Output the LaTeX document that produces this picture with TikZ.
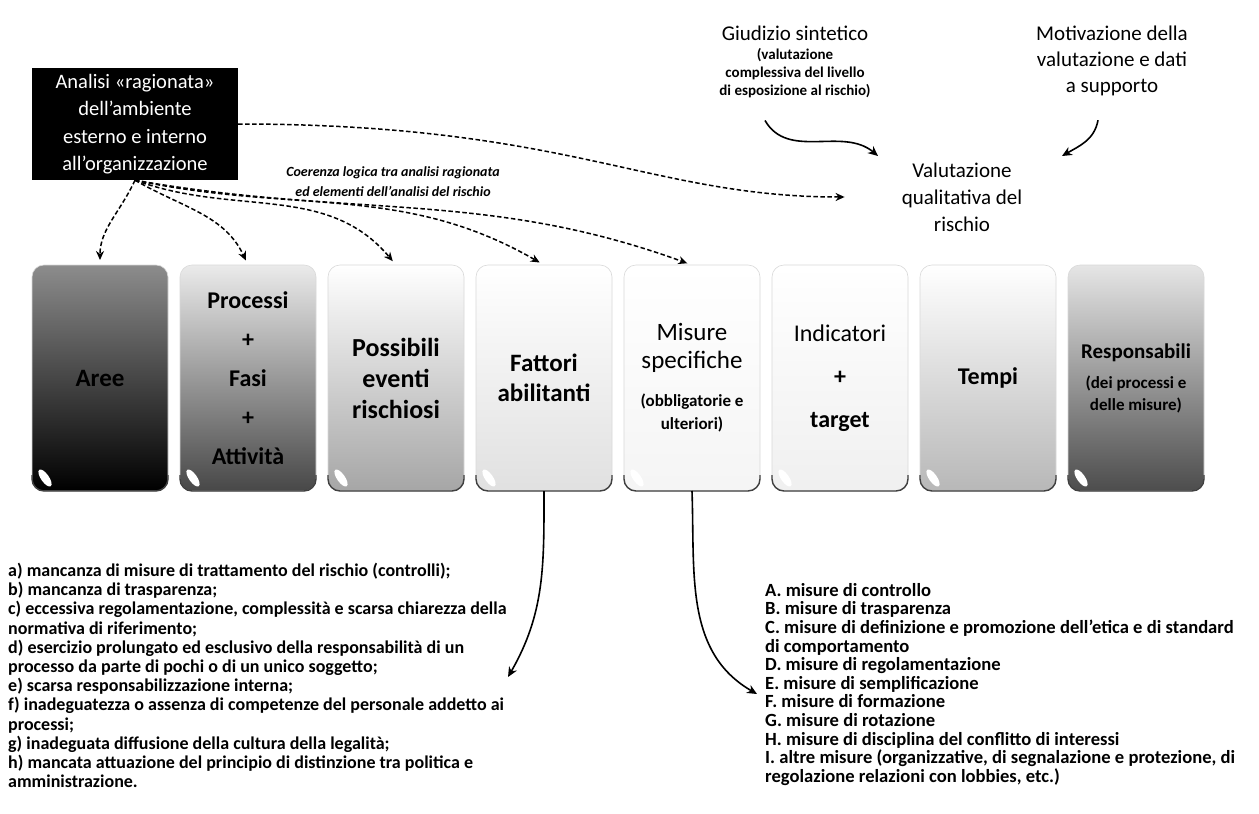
\documentclass[tikz,border=0pt]{standalone}
\usepackage{fontspec}
\setmainfont{Carlito}
\usepackage{tikz}
\usetikzlibrary{positioning,arrows.meta,calc}
\newcommand{\fsz}[2]{\fontsize{#1}{#2}\selectfont}
\newcommand{\subl}[1]{{\bfseries\fsz{17}{21}#1}}
\tikzset{
  anbox/.style ={fill=black, text=white, align=center, inner sep=0pt,
                 minimum width=206pt, minimum height=112pt, font=\fsz{20.5}{27.5}},
  col/.style   ={draw=black!15, line width=0.6pt, rounded corners=12pt, outer sep=0pt,
                 minimum width=136pt, minimum height=226pt, inner sep=2pt,
                 align=center, text=black},
  colA/.style  ={col, top color=black!45, bottom color=black},
  colB/.style  ={col, top color=black!8,  bottom color=black!72},
  colC/.style  ={col, top color=white,    bottom color=black!35},
  colD/.style  ={col, top color=white,    bottom color=black!12},
  colE/.style  ={col, top color=white,    bottom color=black!4},
  colF/.style  ={col, top color=white,    bottom color=black!6},
  colG/.style  ={col, top color=white,    bottom color=black!28},
  colH/.style  ={col, top color=black!10, bottom color=black!70},
  rim/.style   ={draw=black!75, line width=1.4pt},
  gloss/.style ={fill=white},
  link/.style  ={-{Stealth[length=9pt,width=8pt]}, line width=1.5pt,
                 dash pattern=on 4.5pt off 2.5pt, shorten >=5pt},
  feed/.style  ={-{Stealth[length=10pt,width=9pt]}, line width=1.6pt},
  note/.style  ={align=center, inner sep=0pt},
  list/.style  ={anchor=north west, inner sep=0pt, align=left,
                 font=\bfseries\fsz{18}{19.2}},
}

\begin{document}
\begin{tikzpicture}[x=1pt,y=-1pt]
  \path[use as bounding box, fill=white] (0,0) rectangle (1259,814);

  % ===== analisi ragionata (top left) =====
  \node[anbox] (anl) at (135,124)
    {Analisi «ragionata»\\dell'ambiente\\esterno e interno\\all'organizzazione};
  \node[note, font=\bfseries\itshape\fsz{14}{20}] (coer) at (393,182)
    {Coerenza logica tra analisi ragionata\\ed elementi dell’analisi del rischio};

  % ===== valutazione (top right) =====
  \node[note, font=\fsz{21}{25}] (giud) at (795,33) {Giudizio sintetico};
  \node[note, font=\bfseries\fsz{15}{18}, below=8pt of giud] (giudsub)
    {(valutazione\\complessiva del livello\\di esposizione al rischio)};
  \node[note, font=\fsz{21}{26}] (moti) at (1112,61)
    {Motivazione della\\valutazione e dati\\a supporto};
  \node[note, font=\fsz{21}{27}] (valu) at (962,197)
    {Valutazione\\qualitativa del\\rischio};

  % ===== columns =====
  \node[colA, font=\bfseries\fsz{25}{30}] (aree) at (100,378) {Aree};
  \node[colB, font=\bfseries\fsz{24}{39}, right=12pt of aree] (proc)
    {Processi\\+\\Fasi\\+\\Attività};
  \node[colC, font=\bfseries\fsz{26}{31}, right=12pt of proc] (pos)
    {Possibili\\eventi\\rischiosi};
  \node[colD, font=\bfseries\fsz{25}{30}, right=12pt of pos] (fat)
    {Fattori\\abilitanti};
  \node[colE, font=\fsz{25}{28}, right=12pt of fat] (mis)
    {Misure\\specifiche\\[10pt]\subl{(obbligatorie e}\\[-5pt]\subl{ulteriori)}};
  \node[colF, font=\fsz{24}{43}, right=12pt of mis] (ind)
    {Indicatori\\\textbf{+}\\\textbf{target}};
  \node[colG, font=\bfseries\fsz{24}{30}, right=12pt of ind] (tem) {Tempi};
  \node[colH, font=\bfseries\fsz{21}{22}, right=12pt of tem] (res)
    {Responsabili\\[8pt]\subl{(dei processi e}\\\subl{delle misure)}};

  % ---- bottom rims + gloss ----
  \foreach \c in {aree,proc,pos,fat,mis,ind,tem,res}{
    \draw[rim] ([yshift=16pt]\c.south west) [rounded corners=12pt]
      -- (\c.south west) -- (\c.south east) -- ([yshift=16pt]\c.south east);
    \fill[gloss, shift={([shift={(13pt,13pt)}]\c.south west)}, rotate=-55]
      (0,0) ellipse (10pt and 4pt);
  }

  % ===== dashed links from the analysis =====
  \draw[link] (anl.south) to[out=-115,in=90] (aree.north);
  \draw[link] (anl.south) to[out=-30,in=115] (proc.north);
  \draw[link] (anl.south) to[out=-20,in=130] (pos.north);
  \draw[link] (anl.south) to[out=-12,in=150] (fat.north);
  \draw[link] (anl.south) to[out=-10,in=160] (mis.north);
  \draw[link] (anl.east) .. controls +(330,0) and +(-200,0) .. ([xshift=-52pt]valu.west);

  % ===== solid arrows =====
  \coordinate (gtip) at (878,156);
  \coordinate (mtip) at (1062,156);
  \draw[feed] ([shift={(-30,22)}]giudsub.south) to[out=-60,in=140] (gtip);
  \draw[feed] ([shift={(-14,24)}]moti.south) to[out=-100,in=30] (mtip);

  \coordinate (ftip) at (508,677);
  \coordinate (stip) at (757,694);
  \draw[feed] (fat.south) to[out=-90,in=60] (ftip);
  \draw[feed] (mis.south) to[out=-88,in=150] (stip);

  % ===== lists =====
  \node[list] (fatlist) at (8,563)
    {a) mancanza di misure di trattamento del rischio (controlli);\\
     b) mancanza di trasparenza;\\
     c) eccessiva regolamentazione, complessità e scarsa chiarezza della\\
     normativa di riferimento;\\
     d) esercizio prolungato ed esclusivo della responsabilità di un\\
     processo da parte di pochi o di un unico soggetto;\\
     e) scarsa responsabilizzazione interna;\\
     f) inadeguatezza o assenza di competenze del personale addetto ai\\
     processi;\\
     g) inadeguata diffusione della cultura della legalità;\\
     h) mancata attuazione del principio di distinzione tra politica e\\
     amministrazione.};
  \node[list, font=\bfseries\fsz{18.6}{18.6}] (mislist) at (765,583)
    {A. misure di controllo\\
     B. misure di trasparenza\\
     C. misure di definizione e promozione dell’etica e di standard\\
     di comportamento\\
     D. misure di regolamentazione\\
     E. misure di semplificazione\\
     F. misure di formazione\\
     G. misure di rotazione\\
     H. misure di disciplina del conflitto di interessi\\
     I. altre misure (organizzative, di segnalazione e protezione, di\\
     regolazione relazioni con lobbies, etc.)};

\end{tikzpicture}
\end{document}
